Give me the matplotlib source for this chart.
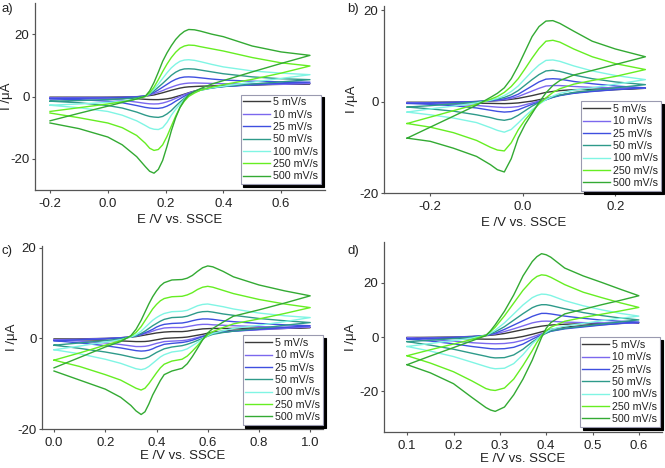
import matplotlib
matplotlib.use("Agg")
import matplotlib.pyplot as plt

plt.rcParams['font.family'] = ['Liberation Sans', 'DejaVu Sans']

rates = ['5 mV/s', '10 mV/s', '25 mV/s', '50 mV/s', '100 mV/s', '250 mV/s', '500 mV/s']
colors = ['#3a3a3a', '#7b68ee', '#3f4fe0', '#2e9a8a', '#80f5e4', '#66ee22', '#33aa33']

# ---------------- panel a ----------------
EA = [-0.2, -0.1, 0.0, 0.05, 0.1, 0.13, 0.145, 0.16, 0.175, 0.19, 0.205, 0.22, 0.235, 0.25, 0.265, 0.28, 0.3, 0.32, 0.36, 0.4, 0.5, 0.6, 0.7]
a_fwd_5 = [-0.3, -0.25, -0.2, -0.15, -0.05, 0.1, 0.3, 0.5, 0.85, 1.2, 1.6, 2.0, 2.35, 2.7, 2.95, 3.1, 3.2, 3.3, 3.4, 3.5, 3.7, 3.9, 4.1]
a_fwd_10 = [-0.4, -0.35, -0.3, -0.25, -0.1, 0.2, 0.5, 0.9, 1.4, 1.9, 2.5, 3.0, 3.5, 3.9, 4.15, 4.3, 4.35, 4.3, 4.2, 4.1, 4.0, 4.1, 4.2]
a_fwd_25 = [-0.6, -0.55, -0.45, -0.35, -0.15, 0.2, 0.7, 1.3, 2.1, 3.0, 3.9, 4.8, 5.5, 6.0, 6.25, 6.3, 6.2, 6.0, 5.6, 5.3, 4.9, 4.7, 4.6]
a_fwd_50 = [-1.5, -1.3, -1.0, -0.8, -0.4, 0.1, 0.8, 1.8, 3.0, 4.2, 5.5, 6.8, 7.8, 8.5, 8.85, 8.9, 8.8, 8.5, 7.9, 7.3, 6.3, 5.7, 5.4]
a_fwd_100 = [-2.8, -2.4, -1.9, -1.5, -0.8, 0.0, 1.0, 2.4, 4.0, 5.8, 7.6, 9.2, 10.4, 11.3, 11.7, 11.8, 11.6, 11.2, 10.3, 9.5, 8.2, 7.5, 7.0]
a_fwd_250 = [-4.8, -3.6, -2.4, -1.7, -0.8, 0.0, 1.2, 3.0, 5.4, 8.0, 10.4, 12.5, 14.2, 15.5, 16.2, 16.5, 16.4, 16.0, 15.3, 14.6, 12.5, 10.8, 9.8]
a_fwd_500 = [-7.8, -5.4, -3.1, -1.9, -0.8, 0.1, 1.8, 4.5, 7.8, 11.3, 14.0, 16.3, 18.3, 19.8, 20.9, 21.5, 21.4, 21.0, 20.0, 19.2, 16.2, 14.3, 13.2]
a_rev_5 = [-0.3, -0.35, -0.4, -0.5, -0.7, -0.9, -0.97, -1.0, -1.0, -0.9, -0.75, -0.5, -0.1, 0.3, 0.75, 1.2, 1.75, 2.2, 2.9, 3.3, 3.8, 4.0, 4.1]
a_rev_10 = [-0.4, -0.6, -0.9, -1.2, -1.8, -2.2, -2.35, -2.4, -2.35, -2.1, -1.7, -1.2, -0.6, 0.0, 0.6, 1.1, 1.7, 2.2, 2.8, 3.2, 3.7, 4.0, 4.2]
a_rev_25 = [-0.8, -1.0, -1.5, -2.0, -2.9, -3.5, -3.7, -3.8, -3.8, -3.6, -3.1, -2.4, -1.5, -0.7, 0.1, 0.8, 1.5, 2.1, 2.8, 3.2, 3.8, 4.2, 4.6]
a_rev_50 = [-1.5, -2.0, -2.9, -3.7, -5.0, -6.0, -6.4, -6.6, -6.7, -6.4, -5.6, -4.5, -3.1, -1.8, -0.6, 0.5, 1.4, 2.0, 2.7, 3.2, 4.0, 4.7, 5.4]
a_rev_100 = [-2.8, -3.6, -4.8, -6.0, -7.8, -9.3, -10.1, -10.5, -10.6, -10.0, -8.3, -6.0, -4.1, -2.5, -1.0, 0.3, 1.3, 2.0, 2.8, 3.3, 4.6, 5.8, 7.0]
a_rev_250 = [-5.3, -6.8, -8.5, -10.0, -12.5, -15.0, -16.6, -17.3, -17.0, -15.5, -12.8, -9.5, -6.3, -3.5, -1.5, 0.0, 1.1, 2.0, 3.0, 3.8, 5.5, 7.5, 9.8]
a_rev_500 = [-8.5, -10.3, -13.0, -15.5, -19.3, -22.5, -24.0, -24.6, -23.4, -20.5, -16.0, -11.0, -6.8, -3.5, -1.2, 0.5, 1.6, 2.5, 4.0, 5.1, 7.9, 10.6, 13.2]

# ---------------- panel b ----------------
EB = [-0.25, -0.2, -0.15, -0.1, -0.07, -0.055, -0.04, -0.025, -0.01, 0.005, 0.02, 0.035, 0.05, 0.065, 0.08, 0.11, 0.15, 0.2, 0.265]
b_fwd_5 = [-0.2, -0.15, -0.1, 0.0, 0.1, 0.2, 0.3, 0.5, 0.7, 1.0, 1.3, 1.65, 2.0, 2.2, 2.4, 2.6, 2.7, 2.8, 2.9]
b_fwd_10 = [-0.3, -0.25, -0.15, 0.0, 0.15, 0.25, 0.4, 0.7, 1.1, 1.7, 2.3, 2.9, 3.4, 3.5, 3.5, 3.3, 3.1, 3.0, 3.0]
b_fwd_25 = [-0.4, -0.3, -0.2, 0.0, 0.2, 0.35, 0.6, 1.0, 1.6, 2.5, 3.4, 4.3, 4.9, 5.0, 4.9, 4.4, 3.9, 3.4, 3.0]
b_fwd_50 = [-1.2, -0.9, -0.5, -0.1, 0.3, 0.55, 0.9, 1.5, 2.4, 3.6, 4.8, 5.9, 6.7, 6.85, 6.6, 5.8, 5.0, 4.3, 3.7]
b_fwd_100 = [-2.3, -1.6, -1.0, -0.3, 0.3, 0.7, 1.3, 2.2, 3.4, 5.0, 6.6, 8.0, 9.0, 9.1, 8.8, 7.8, 6.7, 5.7, 4.8]
b_fwd_250 = [-4.8, -3.4, -2.0, -0.6, 0.5, 1.1, 2.0, 3.3, 5.0, 7.2, 9.5, 11.6, 13.2, 13.4, 13.0, 11.5, 9.8, 8.3, 7.0]
b_fwd_500 = [-8.0, -5.6, -3.2, -0.8, 0.9, 1.8, 3.0, 5.0, 7.8, 11.0, 14.2, 16.4, 17.6, 17.7, 17.1, 15.4, 13.2, 11.5, 9.8]
b_rev_5 = [-0.2, -0.25, -0.3, -0.35, -0.4, -0.43, -0.45, -0.4, -0.3, -0.1, 0.1, 0.4, 0.7, 1.05, 1.4, 1.9, 2.3, 2.6, 2.9]
b_rev_10 = [-0.3, -0.45, -0.6, -0.85, -1.1, -1.22, -1.3, -1.25, -1.1, -0.7, -0.3, 0.15, 0.6, 1.0, 1.4, 1.9, 2.3, 2.7, 3.0]
b_rev_25 = [-0.4, -0.6, -0.9, -1.4, -1.9, -2.15, -2.3, -2.2, -1.8, -1.2, -0.6, -0.1, 0.4, 0.9, 1.3, 1.8, 2.2, 2.6, 3.0]
b_rev_50 = [-1.2, -1.6, -2.1, -2.9, -3.5, -3.9, -4.1, -3.8, -3.0, -2.0, -1.0, -0.2, 0.4, 1.0, 1.4, 2.0, 2.5, 3.0, 3.7]
b_rev_100 = [-2.3, -2.9, -3.6, -4.6, -5.7, -6.3, -6.7, -6.1, -4.7, -3.2, -1.8, -0.6, 0.4, 1.2, 1.8, 2.5, 3.0, 3.8, 4.8]
b_rev_250 = [-4.8, -5.6, -6.8, -8.5, -10.0, -10.6, -10.8, -9.0, -6.2, -4.0, -2.2, -0.5, 0.8, 2.0, 2.8, 3.8, 4.6, 5.5, 7.0]
b_rev_500 = [-8.0, -8.7, -10.2, -12.0, -13.8, -14.9, -15.4, -12.5, -8.0, -5.0, -2.6, -0.2, 1.9, 3.5, 4.6, 5.8, 6.8, 8.1, 9.8]

# ---------------- panel c ----------------
EC = [0.0, 0.1, 0.2, 0.26, 0.3, 0.32, 0.34, 0.355, 0.37, 0.385, 0.4, 0.415, 0.43, 0.46, 0.5, 0.52, 0.54, 0.56, 0.58, 0.6, 0.62, 0.66, 0.7, 0.8, 0.9, 1.0]
c_fwd_5 = [-0.2, -0.1, 0.0, 0.15, 0.3, 0.4, 0.6, 0.75, 0.9, 1.05, 1.2, 1.3, 1.4, 1.5, 1.5, 1.6, 1.8, 1.95, 2.1, 2.15, 2.2, 2.2, 2.2, 2.3, 2.3, 2.4]
c_fwd_10 = [-0.3, -0.2, 0.0, 0.15, 0.35, 0.5, 0.8, 1.05, 1.3, 1.6, 1.9, 2.1, 2.3, 2.4, 2.4, 2.6, 2.8, 3.0, 3.1, 3.1, 3.0, 2.9, 2.8, 2.6, 2.5, 2.5]
c_fwd_25 = [-0.5, -0.3, -0.1, 0.1, 0.35, 0.55, 0.9, 1.25, 1.6, 2.0, 2.5, 2.85, 3.1, 3.3, 3.4, 3.6, 3.9, 4.15, 4.3, 4.3, 4.2, 3.9, 3.7, 3.3, 3.0, 2.8]
c_fwd_50 = [-1.5, -1.0, -0.5, -0.1, 0.3, 0.6, 1.1, 1.6, 2.2, 2.8, 3.3, 3.8, 4.2, 4.6, 4.7, 4.9, 5.3, 5.7, 5.9, 5.95, 5.8, 5.4, 5.1, 4.4, 3.9, 3.5]
c_fwd_100 = [-2.5, -1.7, -0.8, -0.3, 0.3, 0.8, 1.6, 2.4, 3.2, 4.0, 4.6, 5.1, 5.5, 5.9, 6.0, 6.2, 6.7, 7.2, 7.5, 7.6, 7.4, 7.0, 6.5, 5.6, 5.0, 4.6]
c_fwd_250 = [-4.8, -3.2, -1.5, -0.5, 0.5, 1.3, 2.6, 3.9, 5.2, 6.5, 7.5, 8.3, 8.8, 9.2, 9.3, 9.6, 10.1, 10.8, 11.3, 11.5, 11.3, 10.6, 9.9, 8.6, 7.6, 6.8]
c_fwd_500 = [-6.5, -4.2, -1.9, -0.7, 0.6, 2.0, 4.0, 5.8, 7.6, 9.2, 10.5, 11.6, 12.3, 12.9, 13.0, 13.3, 13.9, 14.8, 15.6, 16.0, 15.8, 14.8, 13.6, 11.8, 10.5, 9.4]
c_rev_5 = [-0.2, -0.3, -0.4, -0.55, -0.65, -0.7, -0.7, -0.68, -0.6, -0.45, -0.3, -0.15, 0.0, 0.1, 0.2, 0.3, 0.5, 0.7, 0.9, 1.15, 1.4, 1.6, 1.8, 2.0, 2.2, 2.4]
c_rev_10 = [-0.3, -0.6, -1.0, -1.35, -1.65, -1.8, -1.8, -1.75, -1.6, -1.35, -1.1, -0.9, -0.7, -0.6, -0.5, -0.35, -0.1, 0.2, 0.5, 0.8, 1.1, 1.4, 1.6, 1.9, 2.2, 2.5]
c_rev_25 = [-0.5, -1.0, -1.6, -2.1, -2.5, -2.7, -2.8, -2.75, -2.6, -2.3, -1.9, -1.6, -1.3, -1.1, -0.9, -0.7, -0.4, 0.0, 0.4, 0.8, 1.1, 1.4, 1.6, 2.0, 2.4, 2.8]
c_rev_50 = [-1.5, -2.2, -3.0, -3.6, -4.1, -4.35, -4.5, -4.4, -4.1, -3.6, -3.1, -2.7, -2.3, -1.9, -1.6, -1.3, -0.9, -0.45, 0.0, 0.5, 0.9, 1.3, 1.6, 2.2, 2.9, 3.5]
c_rev_100 = [-2.5, -3.4, -4.6, -5.5, -6.3, -6.7, -6.9, -6.7, -6.2, -5.5, -4.8, -4.1, -3.6, -3.0, -2.7, -2.3, -1.6, -0.9, -0.1, 0.6, 1.1, 1.7, 2.2, 2.9, 3.7, 4.6]
c_rev_250 = [-4.8, -6.2, -8.0, -9.2, -10.4, -11.0, -11.4, -11.0, -10.0, -8.8, -7.6, -6.5, -5.7, -5.0, -4.6, -3.9, -2.8, -1.6, -0.3, 0.8, 1.5, 2.4, 3.2, 4.3, 5.5, 6.8]
c_rev_500 = [-7.2, -9.2, -11.2, -13.0, -14.8, -16.0, -16.8, -16.2, -14.5, -12.5, -10.9, -9.3, -8.0, -7.2, -6.6, -5.6, -4.0, -2.2, -0.3, 1.2, 2.2, 3.6, 4.9, 6.3, 7.8, 9.4]

# ---------------- panel d ----------------
ED = [0.1, 0.15, 0.2, 0.24, 0.27, 0.28, 0.29, 0.31, 0.33, 0.35, 0.37, 0.38, 0.39, 0.4, 0.41, 0.44, 0.48, 0.52, 0.56, 0.6]
d_fwd_5 = [-0.2, -0.1, 0.0, 0.2, 0.5, 0.65, 0.8, 1.3, 2.0, 2.7, 3.4, 3.7, 4.0, 4.2, 4.4, 4.7, 4.9, 5.0, 5.1, 5.2]
d_fwd_10 = [-0.4, -0.3, -0.1, 0.2, 0.6, 0.85, 1.1, 2.0, 3.0, 4.1, 5.2, 5.55, 5.8, 5.85, 5.8, 5.5, 5.3, 5.2, 5.2, 5.3]
d_fwd_25 = [-0.7, -0.5, -0.2, 0.1, 0.6, 1.0, 1.4, 2.8, 4.4, 6.0, 7.6, 8.2, 8.7, 8.7, 8.5, 7.7, 6.9, 6.2, 5.8, 5.5]
d_fwd_50 = [-1.7, -1.2, -0.6, -0.1, 0.6, 1.2, 1.9, 3.8, 6.2, 8.6, 10.8, 11.5, 11.9, 11.9, 11.6, 10.4, 9.0, 7.9, 7.0, 6.3]
d_fwd_100 = [-3.5, -2.4, -1.3, -0.4, 0.6, 1.5, 2.5, 5.2, 8.5, 11.8, 14.5, 15.3, 15.8, 15.7, 15.3, 13.4, 11.5, 10.0, 8.7, 7.7]
d_fwd_250 = [-6.9, -4.7, -2.6, -0.9, 0.7, 2.0, 3.6, 7.8, 12.5, 17.2, 21.0, 22.3, 22.9, 22.7, 22.0, 19.3, 16.5, 14.5, 12.6, 10.9]
d_fwd_500 = [-10.2, -7.0, -3.9, -1.4, 0.5, 2.3, 4.5, 9.5, 15.5, 22.5, 27.8, 29.6, 30.7, 30.3, 29.4, 25.4, 22.5, 20.1, 17.6, 15.2]
d_rev_5 = [-0.2, -0.3, -0.5, -0.7, -0.8, -0.8, -0.8, -0.7, -0.4, 0.2, 1.0, 1.45, 1.9, 2.35, 2.8, 3.6, 4.2, 4.7, 5.0, 5.2]
d_rev_10 = [-0.4, -0.9, -1.5, -2.1, -2.4, -2.45, -2.5, -2.4, -2.0, -1.2, 0.0, 0.6, 1.2, 1.75, 2.3, 3.2, 3.9, 4.5, 5.0, 5.3]
d_rev_25 = [-0.7, -1.5, -2.5, -3.5, -4.1, -4.3, -4.4, -4.3, -3.8, -2.6, -0.8, 0.0, 0.8, 1.5, 2.1, 3.0, 3.7, 4.4, 5.0, 5.5]
d_rev_50 = [-1.7, -3.0, -4.5, -6.0, -7.1, -7.5, -7.7, -7.6, -6.6, -4.5, -1.8, -0.7, 0.5, 1.4, 2.2, 3.2, 4.0, 4.8, 5.6, 6.3]
d_rev_100 = [-3.5, -5.2, -7.2, -9.3, -10.9, -11.4, -11.7, -11.5, -9.8, -6.5, -2.5, -0.9, 0.6, 1.8, 2.8, 4.0, 5.0, 6.0, 6.9, 7.7]
d_rev_250 = [-6.9, -9.6, -12.8, -16.2, -19.0, -19.5, -19.7, -18.8, -15.5, -10.5, -5.0, -2.0, 0.5, 2.3, 3.6, 5.8, 7.2, 8.4, 9.6, 10.9]
d_rev_500 = [-10.2, -13.2, -17.2, -22.3, -26.0, -26.9, -27.4, -25.8, -21.3, -15.5, -8.5, -4.3, -0.2, 3.2, 5.3, 8.5, 10.2, 11.9, 13.5, 15.2]

panels = [
    dict(E=EA, fwd=[a_fwd_5, a_fwd_10, a_fwd_25, a_fwd_50, a_fwd_100, a_fwd_250, a_fwd_500],
         rev=[a_rev_5, a_rev_10, a_rev_25, a_rev_50, a_rev_100, a_rev_250, a_rev_500],
         rect=(35, 3, 325, 190), xlim=(-0.252, 0.752), ylim=(-30, 30),
         xticks=[-0.2, 0.0, 0.2, 0.4, 0.6], yticks=[-20, 0, 20],
         label='a)', lab_xy=(1, 12), leg=(0.986, 0.032), ylab_x=13, xlab_top=214),
    dict(E=EB, fwd=[b_fwd_5, b_fwd_10, b_fwd_25, b_fwd_50, b_fwd_100, b_fwd_250, b_fwd_500],
         rev=[b_rev_5, b_rev_10, b_rev_25, b_rev_50, b_rev_100, b_rev_250, b_rev_500],
         rect=(384, 6, 663, 193), xlim=(-0.3, 0.303), ylim=(-20, 20.9),
         xticks=[-0.2, 0.0, 0.2], yticks=[-20, 0, 20],
         label='b)', lab_xy=(347, 12), leg=(0.993, 0.012), ylab_x=358, xlab_top=217),
    dict(E=EC, fwd=[c_fwd_5, c_fwd_10, c_fwd_25, c_fwd_50, c_fwd_100, c_fwd_250, c_fwd_500],
         rev=[c_rev_5, c_rev_10, c_rev_25, c_rev_50, c_rev_100, c_rev_250, c_rev_500],
         rect=(42, 246, 323, 429), xlim=(-0.047, 1.05), ylim=(-20, 20.4),
         xticks=[0.0, 0.2, 0.4, 0.6, 0.8, 1.0], yticks=[-20, 0, 20],
         label='c)', lab_xy=(2, 254), leg=(1.0, 0.023), ylab_x=18, xlab_top=450),
    dict(E=ED, fwd=[d_fwd_5, d_fwd_10, d_fwd_25, d_fwd_50, d_fwd_100, d_fwd_250, d_fwd_500],
         rev=[d_rev_5, d_rev_10, d_rev_25, d_rev_50, d_rev_100, d_rev_250, d_rev_500],
         rect=(384, 242, 662, 432), xlim=(0.05, 0.65), ylim=(-35, 35),
         xticks=[0.1, 0.2, 0.3, 0.4, 0.5, 0.6], yticks=[-20, 0, 20],
         label='d)', lab_xy=(347, 254), leg=(0.993, 0.027), ylab_x=357, xlab_top=453),
]

W, H = 665, 468
fig = plt.figure(figsize=(W / 100, H / 100), dpi=100)

for p in panels:
    x0, y0, x1, y1 = p['rect']
    ax = fig.add_axes([x0 / W, 1 - y1 / H, (x1 - x0) / W, (y1 - y0) / H])
    E = p['E']
    for f, r, c, lab in zip(p['fwd'], p['rev'], colors, rates):
        xs = list(E) + list(E[::-1])
        ys = list(f) + list(r[::-1])
        ax.plot(xs, ys, color=c, lw=1.0, label=lab, solid_joinstyle='round')
    ax.set_xlim(*p['xlim'])
    ax.set_ylim(*p['ylim'])
    ax.set_xticks(p['xticks'])
    ax.set_yticks(p['yticks'])
    ax.set_xticklabels(['%.1f' % v for v in p['xticks']])
    ax.set_yticklabels(['%d' % v for v in p['yticks']])
    for s in ['top', 'right']:
        ax.spines[s].set_visible(False)
    for s in ['left', 'bottom']:
        ax.spines[s].set_color('#555555')
        ax.spines[s].set_linewidth(0.9)
    ax.tick_params(direction='out', length=2.5, width=0.8, colors='#555555',
                   labelcolor='#222222', labelsize=9.5)
    ax.tick_params(axis='x', pad=3.5)
    ax.tick_params(axis='y', pad=1.5)
    ax.set_xlabel('E /V vs. SSCE', fontsize=9.5, color='#222222')
    ax.set_ylabel('I /\u03bcA', fontsize=9.5, color='#222222')
    ax.yaxis.set_label_coords((p['ylab_x'] - x0) / (x1 - x0), 0.5)
    ax.xaxis.set_label_coords(0.5, (y1 - p['xlab_top']) / (y1 - y0))
    leg = ax.legend(loc='lower right', bbox_to_anchor=p['leg'], fontsize=7.7,
                    frameon=True, fancybox=False, framealpha=1,
                    shadow={'color': 'black', 'alpha': 1.0},
                    edgecolor='#9a9ab0', borderpad=0.25, labelspacing=0.22,
                    handlelength=2.5, handletextpad=0.3, borderaxespad=0.0)
    leg.get_frame().set_linewidth(0.8)
    for t in leg.get_texts():
        t.set_color('#222222')
    fig.text(p['lab_xy'][0] / W, 1 - p['lab_xy'][1] / H, p['label'],
             fontsize=9.5, color='#222222', va='baseline', ha='left')

fig.savefig('out.png', dpi=100)
